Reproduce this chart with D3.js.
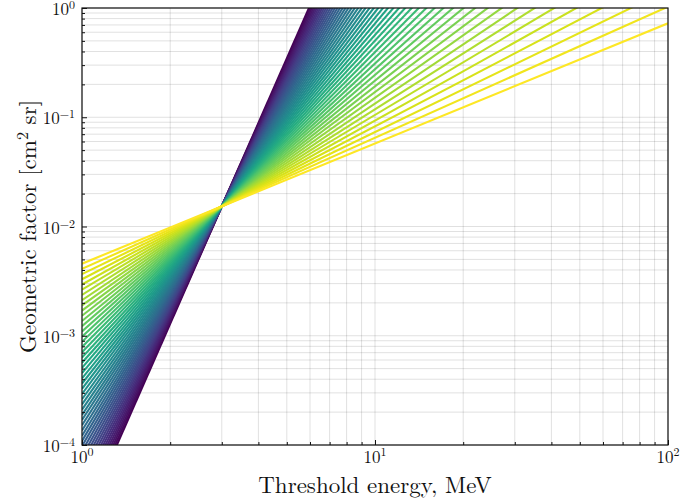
<!DOCTYPE html>
<html>
<head>
<meta charset="utf-8">
<script src="https://cdn.jsdelivr.net/npm/d3@7"></script>
<style>
  body { margin: 0; background: #fff; }
  text { font-family: "Latin Modern Roman", "CMU Serif", "Liberation Serif", serif; fill: #111; }
</style>
</head>
<body>
<div id="chart"></div>
<script>
// power-law exponents of each curve, all curves pass through the pivot point
const exponents = [1.1, 1.2, 1.3, 1.4, 1.5, 1.6, 1.7, 1.8, 1.9, 2.0,
    2.1, 2.2, 2.3, 2.4, 2.5, 2.6, 2.7, 2.8, 2.9, 3.0,
    3.1, 3.2, 3.3, 3.4, 3.5, 3.6, 3.7, 3.8, 3.9, 4.0,
    4.1, 4.2, 4.3, 4.4, 4.5, 4.6, 4.7, 4.8, 4.9, 5.0,
    5.1, 5.2, 5.3, 5.4, 5.5, 5.6, 5.7, 5.8, 5.9, 6.0, 6.1];
const pivotEnergy = 3.0;
const pivotFactor = 0.0153;
const energyRange = [1, 100];

const xTicks = [1, 10, 100];
const yTicks = [1e-4, 1e-3, 1e-2, 1e-1, 1];

const width = 680, height = 504;
const margin = {top: 8, right: 12, bottom: 59, left: 82};

const svg = d3.select("#chart").append("svg")
    .attr("width", width)
    .attr("height", height);

const x = d3.scaleLog()
    .domain([1, 100])
    .range([margin.left, width - margin.right]);

const y = d3.scaleLog()
    .domain([1e-4, 1])
    .range([height - margin.bottom, margin.top]);

const expo = v => Math.round(Math.log10(v));

// grid
const grid = svg.append("g")
    .attr("stroke", "#000")
    .attr("stroke-opacity", 0.12)
    .attr("stroke-width", 1);

grid.selectAll("line.gx")
    .data(x.ticks())
    .join("line")
    .attr("class", "gx")
    .attr("x1", d => x(d)).attr("x2", d => x(d))
    .attr("y1", margin.top).attr("y2", height - margin.bottom);

grid.selectAll("line.gy")
    .data(y.ticks())
    .join("line")
    .attr("class", "gy")
    .attr("y1", d => y(d)).attr("y2", d => y(d))
    .attr("x1", margin.left).attr("x2", width - margin.right);

// curves
svg.append("clipPath")
    .attr("id", "plot-clip")
    .append("rect")
    .attr("x", margin.left)
    .attr("y", margin.top)
    .attr("width", width - margin.left - margin.right)
    .attr("height", height - margin.top - margin.bottom);

const kMin = d3.min(exponents), kMax = d3.max(exponents);
const color = k => d3.interpolateViridis((kMax - k) / (kMax - kMin));

const line = d3.line()
    .x(d => x(d[0]))
    .y(d => y(d[1]));

svg.append("g")
    .attr("clip-path", "url(#plot-clip)")
    .attr("fill", "none")
    .attr("stroke-width", 2.1)
    .selectAll("path")
    .data(exponents.slice().reverse())
    .join("path")
    .attr("stroke", d => color(d))
    .attr("d", k => line(energyRange.map(e => [e, pivotFactor * Math.pow(e / pivotEnergy, k)])));

// ticks (inward, bottom and left only)
const xAxisMinor = g => g
    .attr("transform", `translate(0,${height - margin.bottom})`)
    .call(d3.axisBottom(x).tickValues(x.ticks().filter(d => !xTicks.includes(d))).tickSize(-3).tickFormat(""))
    .call(g => g.select(".domain").remove());

const xAxisMajor = g => g
    .attr("transform", `translate(0,${height - margin.bottom})`)
    .call(d3.axisBottom(x).tickValues(xTicks).tickSize(-5).tickFormat(""))
    .call(g => g.select(".domain").remove());

const yAxisMinor = g => g
    .attr("transform", `translate(${margin.left},0)`)
    .call(d3.axisLeft(y).tickValues(y.ticks().filter(d => !yTicks.some(t => Math.abs(t - d) / t < 1e-6))).tickSize(-3).tickFormat(""))
    .call(g => g.select(".domain").remove());

const yAxisMajor = g => g
    .attr("transform", `translate(${margin.left},0)`)
    .call(d3.axisLeft(y).tickValues(yTicks).tickSize(-5).tickFormat(""))
    .call(g => g.select(".domain").remove());

svg.append("g").call(xAxisMinor);
svg.append("g").call(xAxisMajor);
svg.append("g").call(yAxisMinor);
svg.append("g").call(yAxisMajor);
svg.selectAll(".tick line").attr("stroke", "#111").attr("stroke-width", 1);

// tick labels
const xLabels = svg.append("g")
    .attr("text-anchor", "middle")
    .attr("font-size", 17)
    .selectAll("text")
    .data(xTicks)
    .join("text")
    .attr("x", d => x(d))
    .attr("y", height - margin.bottom + 18);
xLabels.append("tspan").text("10");
xLabels.append("tspan").attr("dy", -7).attr("font-size", 12).text(d => String(expo(d)).replace("-", "\u2212"));

const yLabels = svg.append("g")
    .attr("text-anchor", "end")
    .attr("font-size", 17)
    .selectAll("text")
    .data(yTicks)
    .join("text")
    .attr("x", margin.left - 7)
    .attr("y", d => y(d) + 7);
yLabels.append("tspan").text("10");
yLabels.append("tspan").attr("dy", -6).attr("font-size", 12).text(d => String(expo(d)).replace("-", "\u2212"));

// frame
svg.append("rect")
    .attr("x", margin.left)
    .attr("y", margin.top)
    .attr("width", width - margin.left - margin.right)
    .attr("height", height - margin.top - margin.bottom)
    .attr("fill", "none")
    .attr("stroke", "#111")
    .attr("stroke-width", 1.2);

// axis titles
svg.append("text")
    .attr("x", (margin.left + width - margin.right) / 2)
    .attr("y", height - 11)
    .attr("text-anchor", "middle")
    .attr("font-size", 23)
    .text("Threshold energy, MeV");

const yTitle = svg.append("text")
    .attr("transform", `translate(36,${(margin.top + height - margin.bottom) / 2}) rotate(-90)`)
    .attr("text-anchor", "middle")
    .attr("font-size", 23);
yTitle.append("tspan").text("Geometric factor [cm");
yTitle.append("tspan").attr("dy", -8).attr("font-size", 16).text("2");
yTitle.append("tspan").attr("dy", 8).text(" sr]");
</script>
</body>
</html>
